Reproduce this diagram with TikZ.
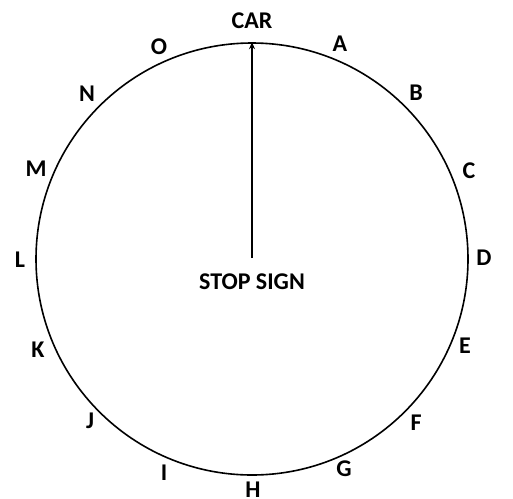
\documentclass[tikz,border=0pt]{standalone}
\usepackage{fontspec}
\setmainfont{Carlito}
\usetikzlibrary{arrows.meta}
\begin{document}
\begin{tikzpicture}[x=1pt,y=-1pt,
  lbl/.style={font=\fontsize{24}{28}\selectfont\bfseries, inner sep=0pt, anchor=center}]
\useasboundingbox (0,0) rectangle (513,498);
\coordinate (c) at (252,259);
\node[draw, circle, line width=1.6pt, minimum size=432pt, inner sep=0pt] (ring) at (c) {};
\coordinate (tail) at (252,258);
\draw[line width=1.3pt, -{Stealth[length=7pt,width=6pt]}] (tail) -- (ring.north);
\node[lbl] (car) at (252,21) {CAR};
\node[lbl] (A) at (340,44) {A};
\node[lbl] (B) at (416,93) {B};
\node[lbl] (C) at (469,171) {C};
\node[lbl] (D) at (484,258) {D};
\node[lbl] (E) at (465,346) {E};
\node[lbl] (F) at (416,423) {F};
\node[lbl] (G) at (344,469) {G};
\node[lbl] (H) at (253,490) {H};
\node[lbl] (I) at (164,473) {I};
\node[lbl] (J) at (90,421) {J};
\node[lbl] (K) at (38,350) {K};
\node[lbl] (L) at (20,260) {L};
\node[lbl] (M) at (36,169) {M};
\node[lbl] (N) at (87,94) {N};
\node[lbl] (O) at (159,47) {O};
\node[lbl] (stop) at (252,282) {STOP SIGN};
\end{tikzpicture}
\end{document}
